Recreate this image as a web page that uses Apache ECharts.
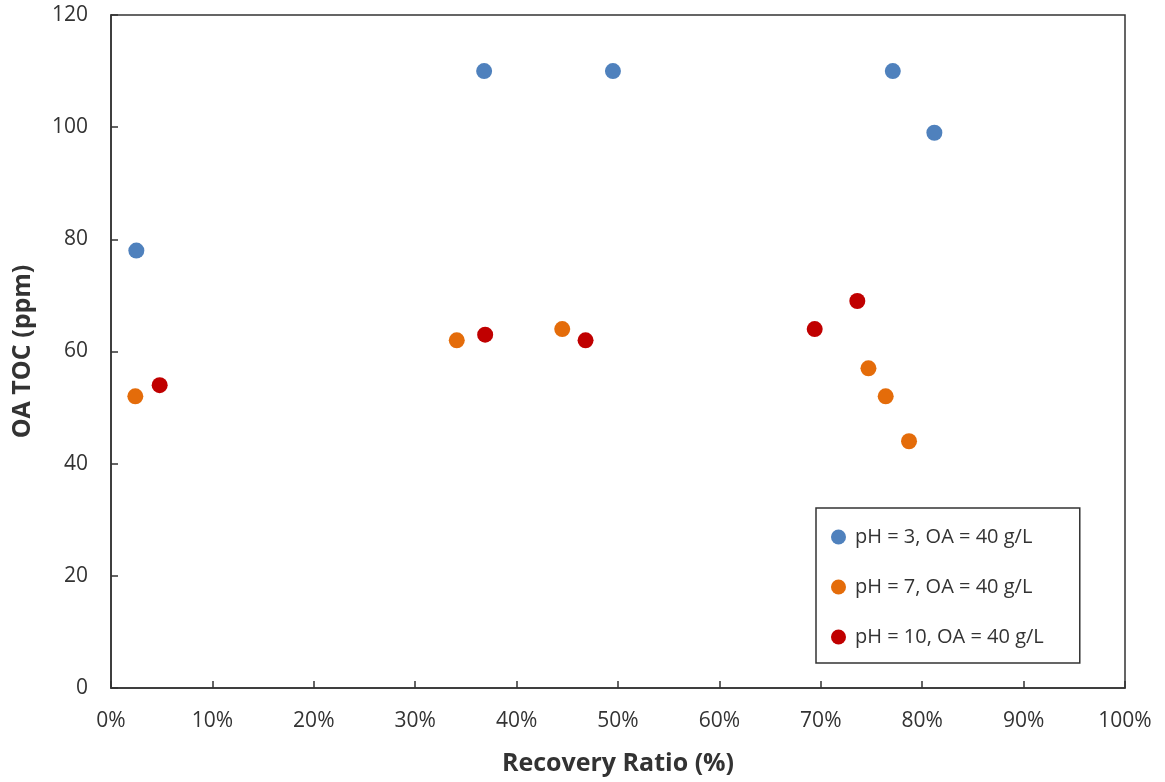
<!DOCTYPE html>
<html>
<head>
    <meta charset="utf-8">
    <script src="https://cdn.jsdelivr.net/npm/echarts@6/dist/echarts.min.js"></script>
    <title>OA TOC vs Recovery Ratio</title>
    <style>body{margin:0;background:#fff;}</style>
</head>
<body>
    <div id="main" style="width:1165px;height:782px;"></div>
    <script type="text/javascript">
    // recovery ratio (%) and OA TOC (ppm) per pH condition
    var ph3_x = [2.5, 36.8, 49.5, 77.1, 81.2];
    var ph3_y = [78, 110, 110, 110, 99];
    var ph7_x = [2.4, 34.1, 44.5, 74.7, 76.4, 78.7];
    var ph7_y = [52, 62, 64, 57, 52, 44];
    var ph10_x = [4.8, 36.9, 46.8, 69.4, 73.6];
    var ph10_y = [54, 63, 62, 64, 69];

    var names = ['pH = 3, OA = 40 g/L', 'pH = 7, OA = 40 g/L', 'pH = 10, OA = 40 g/L'];
    var colors = ['#4F81BD', '#E46C0A', '#C00000'];

    function pairs(xs, ys) {
        var out = [];
        for (var i = 0; i < xs.length; i++) out.push([xs[i], ys[i]]);
        return out;
    }

    var font = '"Open Sans", Lato, sans-serif';
    var myChart = echarts.init(document.getElementById('main'));
    var mk = function(i, d){
        return {
            name: names[i],
            type: 'scatter',
            symbolSize: 16,
            itemStyle: {color: colors[i], opacity: 1},
            data: d
        };
    };
    myChart.setOption({
        animation: false,
        textStyle: {fontFamily: font},
        grid: {left: 111, right: 40, top: 15, bottom: 94, show: true, borderColor: '#333', borderWidth: 1.5, backgroundColor: '#fff'},
        legend: {
            orient: 'vertical',
            left: 816, top: 508,
            padding: [19, 36, 16, 15],
            itemGap: 30,
            itemWidth: 15, itemHeight: 15,
            icon: 'circle',
            borderColor: '#333', borderWidth: 1.5,
            textStyle: {fontSize: 20, color: '#333', fontFamily: font, padding: [0, 0, 0, 4]},
            data: names
        },
        xAxis: {
            type: 'value',
            min: 0, max: 100, interval: 10,
            name: 'Recovery Ratio (%)',
            nameLocation: 'middle',
            nameGap: 63,
            nameTextStyle: {fontSize: 25, fontWeight: 'bold', color: '#333', fontFamily: font},
            axisLine: {show: true, lineStyle: {color: '#333', width: 1.5}},
            axisTick: {show: true, inside: true, length: 7, lineStyle: {color: '#333', width: 1.5}},
            axisLabel: {fontSize: 21, color: '#333', margin: 23, formatter: '{value}%'},
            splitLine: {show: false}
        },
        yAxis: {
            type: 'value',
            min: 0, max: 120, interval: 20,
            name: 'OA TOC (ppm)',
            nameLocation: 'middle',
            nameGap: 76,
            nameTextStyle: {fontSize: 25, fontWeight: 'bold', color: '#333', fontFamily: font},
            axisLine: {show: true, lineStyle: {color: '#333', width: 1.5}},
            axisTick: {show: true, inside: true, length: 7, lineStyle: {color: '#333', width: 1.5}},
            axisLabel: {fontSize: 21, color: '#333', margin: 23},
            splitLine: {show: false}
        },
        series: [mk(0, pairs(ph3_x, ph3_y)), mk(1, pairs(ph7_x, ph7_y)), mk(2, pairs(ph10_x, ph10_y))]
    });
    </script>
</body>
</html>
